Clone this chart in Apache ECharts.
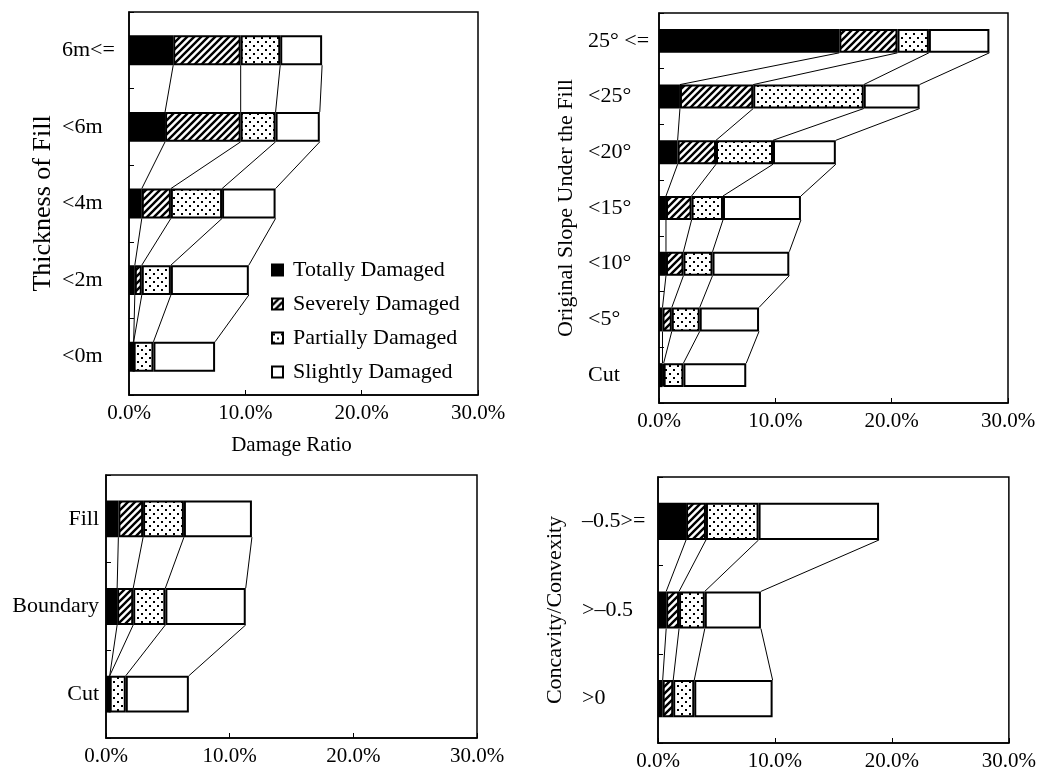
<!DOCTYPE html>
<html><head><meta charset="utf-8">
<script src="https://cdn.jsdelivr.net/npm/echarts@6/dist/echarts.min.js"></script>
<style>html,body{margin:0;padding:0;background:#fff}#c{width:1039px;height:772px}</style>
</head><body><div id="c"></div>
<script>
// ---------- DATA ----------
const levels = ['Totally Damaged', 'Severely Damaged', 'Partially Damaged', 'Slightly Damaged'];
const xTickValues = [0, 10, 20, 30];
const xTickLabels = ['0.0%', '10.0%', '20.0%', '30.0%'];

// Panel 1: Thickness of Fill
const thicknessCats = ['6m<=', '<6m', '<4m', '<2m', '<0m'];
const thicknessTotal   = [3.8, 3.1, 1.1, 0.5, 0.4];
const thicknessSevere  = [5.8, 6.5, 2.5, 0.6, 0.0];
const thicknessPartial = [3.4, 3.0, 4.4, 2.5, 1.7];
const thicknessSlight  = [3.6, 3.8, 4.6, 6.7, 5.3];

// Panel 2: Original Slope Under the Fill
const slopeCats = ['25° <=', '<25°', '<20°', '<15°', '<10°', '<5°', 'Cut'];
const slopeTotal   = [15.5, 1.8, 1.6, 0.6, 0.6, 0.3, 0.3];
const slopeSevere  = [5.0, 6.3, 3.3, 2.2, 1.5, 0.8, 0.1];
const slopePartial = [2.7, 9.5, 4.9, 2.7, 2.5, 2.4, 1.7];
const slopeSlight  = [5.2, 4.8, 5.4, 6.7, 6.6, 5.1, 5.4];

// Panel 3: Fill / Boundary / Cut
const siteCats = ['Fill', 'Boundary', 'Cut'];
const siteTotal   = [1.0, 0.9, 0.3];
const siteSevere  = [2.0, 1.3, 0.0];
const sitePartial = [3.3, 2.6, 1.3];
const siteSlight  = [5.5, 6.5, 5.1];

// Panel 4: Concavity/Convexity
const concCats = ['–0.5>=', '>–0.5', '>0'];
const concTotal   = [2.4, 0.7, 0.4];
const concSevere  = [1.7, 1.1, 0.9];
const concPartial = [4.5, 2.2, 1.8];
const concSlight  = [10.3, 4.8, 6.7];

// ---------- STYLE ----------
const FONT = 'Liberation Serif';
function hatchPattern() {
  const c = document.createElement('canvas');
  c.width = 7; c.height = 7;
  const g = c.getContext('2d');
  g.fillStyle = '#fff'; g.fillRect(0, 0, 7, 7);
  g.strokeStyle = '#000'; g.lineWidth = 2.4;
  g.beginPath();
  g.moveTo(-1, 8); g.lineTo(8, -1);
  g.moveTo(-4.5, 4.5); g.lineTo(4.5, -4.5);
  g.moveTo(2.5, 11.5); g.lineTo(11.5, 2.5);
  g.stroke();
  return { image: c, repeat: 'repeat' };
}
function dotPattern() {
  const c = document.createElement('canvas');
  c.width = 8; c.height = 8;
  const g = c.getContext('2d');
  g.fillStyle = '#fff'; g.fillRect(0, 0, 8, 8);
  g.fillStyle = '#000';
  g.fillRect(1, 1, 2, 2);
  g.fillRect(5, 5, 2, 2);
  return { image: c, repeat: 'repeat' };
}
const fills = ['#000', hatchPattern(), dotPattern(), '#fff'];

const panels = [
  { cats: thicknessCats, vals: [thicknessTotal, thicknessSevere, thicknessPartial, thicknessSlight],
    grid: { left: 129, top: 12, width: 349, height: 383 }, bw: 0.39,
    yName: 'Thickness of Fill', yNameGap: 73, yNameSize: 26,
    xName: 'Damage Ratio', labelAlign: 'left', labelMargin: 67 },
  { cats: slopeCats, vals: [slopeTotal, slopeSevere, slopePartial, slopeSlight],
    grid: { left: 659, top: 13, width: 349, height: 390 }, bw: 0.43,
    yName: 'Original Slope Under the Fill', yNameGap: 82, yNameSize: 22,
    xName: '', labelAlign: 'left', labelMargin: 71 },
  { cats: siteCats, vals: [siteTotal, siteSevere, sitePartial, siteSlight],
    grid: { left: 106, top: 475, width: 371, height: 263 }, bw: 0.42,
    yName: '', yNameGap: 0, yNameSize: 22,
    xName: '', labelAlign: 'right', labelMargin: 7 },
  { cats: concCats, vals: [concTotal, concSevere, concPartial, concSlight],
    grid: { left: 658, top: 477, width: 352, height: 266 }, bw: 0.42,
    yName: 'Concavity/Convexity', yNameGap: 92, yNameSize: 22,
    xName: '', labelAlign: 'left', labelMargin: 76 }
];

const grids = [], xAxes = [], yAxes = [], series = [];
panels.forEach((p, gi) => {
  grids.push(Object.assign({ show: true, borderColor: '#000', borderWidth: 1.5, backgroundColor: '#fff' }, p.grid));
  xAxes.push({
    type: 'value', gridIndex: gi, min: xTickValues[0], max: xTickValues[xTickValues.length - 1], interval: 10,
    axisLine: { show: true, lineStyle: { color: '#000', width: 1.5 } },
    axisTick: { show: true, inside: true, length: 5, lineStyle: { color: '#000' } },
    splitLine: { show: false },
    axisLabel: { color: '#000', fontFamily: FONT, fontSize: 21, margin: 8,
      formatter: v => xTickLabels[xTickValues.indexOf(v)] },
    name: p.xName, nameLocation: 'middle', nameGap: 40,
    nameTextStyle: { color: '#000', fontFamily: FONT, fontSize: 21, padding: [0, 24, 0, 0] }
  });
  yAxes.push({
    type: 'category', gridIndex: gi, data: p.cats, inverse: true,
    axisLine: { show: true, lineStyle: { color: '#000', width: 1.5 } },
    axisTick: { show: true, inside: true, length: 5, lineStyle: { color: '#000' } },
    axisLabel: { color: '#000', fontFamily: FONT, fontSize: 22, align: p.labelAlign, margin: p.labelMargin },
    name: p.yName, nameLocation: 'middle', nameGap: p.yNameGap,
    nameTextStyle: { color: '#000', fontFamily: FONT, fontSize: p.yNameSize }
  });
  p.vals.forEach((arr, li) => {
    series.push({
      type: 'bar', name: levels[li], xAxisIndex: gi, yAxisIndex: gi, stack: 'g' + gi,
      barWidth: (p.bw * 100) + '%', data: arr,
      itemStyle: { color: fills[li], borderColor: '#000', borderWidth: 2 },
      emphasis: { disabled: true }
    });
  });
  // connector lines between matching segment boundaries of adjacent bars
  const n = p.cats.length;
  const cum = [];
  for (let i = 0; i < n; i++) {
    let s = 0; const row = [];
    for (let k = 0; k < 4; k++) { s += p.vals[k][i]; row.push(+s.toFixed(3)); }
    cum.push(row);
  }
  const links = [];
  for (let i = 0; i < n - 1; i++) for (let k = 0; k < 4; k++) links.push([cum[i][k], i, cum[i + 1][k], i + 1]);
  const ratio = p.bw;
  series.push({
    type: 'custom', xAxisIndex: gi, yAxisIndex: gi, data: links, silent: true, z: 1,
    encode: { x: [0, 2], y: [1, 3] },
    renderItem: (params, api) => {
      const p1 = api.coord([api.value(0), api.value(1)]);
      const p2 = api.coord([api.value(2), api.value(3)]);
      const half = api.size([0, 1])[1] * ratio / 2;
      return { type: 'line', shape: { x1: p1[0], y1: p1[1] + half, x2: p2[0], y2: p2[1] - half },
        style: { stroke: '#000', lineWidth: 1 } };
    }
  });
});

const chart = echarts.init(document.getElementById('c'), null, { renderer: 'canvas' });
chart.setOption({
  animation: false,
  backgroundColor: '#fff',
  textStyle: { fontFamily: FONT, color: '#000' },
  grid: grids, xAxis: xAxes, yAxis: yAxes, series: series,
  legend: {
    data: levels, orient: 'vertical', left: 271, top: 259, padding: 0,
    itemWidth: 11, itemHeight: 11, itemGap: 12, icon: 'rect', selectedMode: false,
    textStyle: { fontFamily: FONT, fontSize: 22, color: '#000', padding: [0, 0, 0, 5] }
  }
});
</script></body></html>
